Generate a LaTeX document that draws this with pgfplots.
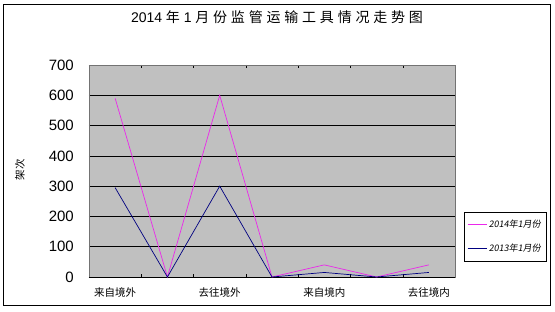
\documentclass[border=0pt]{standalone}
\usepackage{fontspec}
\usepackage{pgfplots}
\pgfplotsset{compat=1.18}
\setmainfont{Liberation Sans}
\newfontfamily\cjk{Noto Sans CJK SC}
\newfontfamily\cjks[FakeSlant=0.15]{Noto Sans CJK SC}
\definecolor{mag}{RGB}{235,40,235}
\definecolor{nav}{RGB}{0,0,128}
\definecolor{bg}{RGB}{192,192,192}
\newcommand\g{\kern3.8pt}
\begin{document}
\begin{tikzpicture}
\begin{axis}[
  name=ax,
  scale only axis,
  width=366pt, height=212pt,
  xmin=0.5, xmax=7.5, ymin=0, ymax=700,
  axis background/.style={fill=bg},
  axis line style={draw=gray!90!black},
  xtick={1,3,5,7},
  xticklabels={来自境外,去往境外,来自境内,去往境内},
  minor xtick={1.5,2.5,3.5,4.5,5.5,6.5},
  major x tick style={draw=none},
  minor x tick style={black},
  minor tick length=3pt,
  tick align=inside,
  xticklabel style={font=\cjk\fontsize{10.5}{12}\selectfont, anchor=center, yshift=-16pt},
  ytick={0,100,...,700},
  major y tick style={draw=none},
  yticklabel style={font=\fontsize{15}{16}\selectfont, anchor=east, inner sep=0pt, xshift=-15pt},
  /pgf/number format/assume math mode=true,
  ymajorgrids, major grid style={black, line width=0.6pt},
  extra y ticks={0}, extra y tick labels={},
  extra y tick style={grid=major, major grid style={black, line width=0.8pt}},
  legend style={at={(1.0246,0.3066)}, anchor=north west, draw=black, fill=white,
    font=\cjks\fontsize{9}{10}\selectfont, row sep=11pt, inner xsep=3pt, inner ysep=6pt,
    legend cell align=left},
  legend image code/.code={\draw[#1] (0pt,0pt) -- (19pt,0pt);},
  clip=false,
]
\addplot[mag, line width=0.7pt] coordinates {(1,590) (2,0) (3,600) (4,0) (5,40) (6,0) (7,40)};
\addlegendentry{2014年1月份}
\addplot[nav, line width=0.7pt] coordinates {(1,295) (2,0) (3,300) (4,0) (5,15) (6,0) (7,15)};
\addlegendentry{2013年1月份}
\end{axis}
\node[font=\cjk\fontsize{14}{15}\selectfont] at ([shift={(188pt,260pt)}]ax.south west) {{\fontspec{Liberation Sans}2014}\g 年\g{\fontspec{Liberation Sans}1}\g 月\g 份\g 监\g 管\g 运\g 输\g 工\g 具\g 情\g 况\g 走\g 势\g 图};
\node[font=\cjk\fontsize{10.5}{11}\selectfont, rotate=90] at ([shift={(-69pt,107pt)}]ax.south west) {架次};
\draw[black, line width=1pt] ([shift={(-85pt,-29pt)}]ax.south west) rectangle ([shift={(461pt,272pt)}]ax.south west);
\pgfresetboundingbox
\path ([shift={(-89pt,-35pt)}]ax.south west) rectangle ([shift={(466pt,277pt)}]ax.south west);
\end{tikzpicture}
\end{document}
